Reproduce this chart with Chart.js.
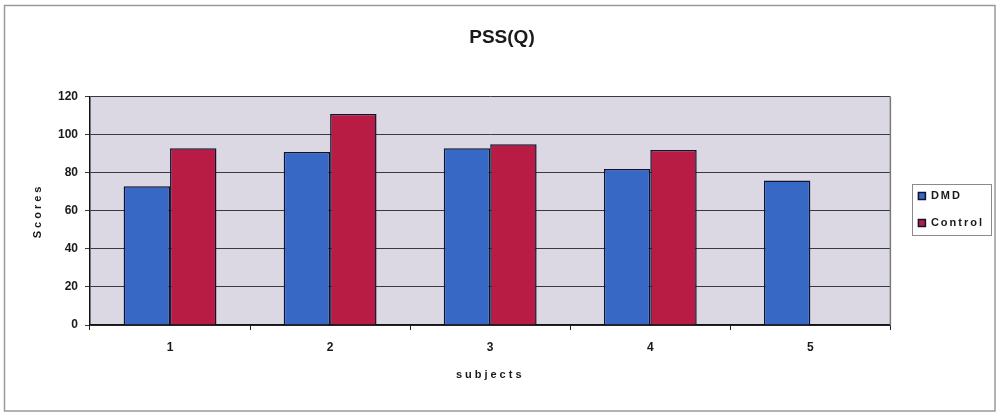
<!DOCTYPE html>
<html>
<head>
<meta charset="utf-8">
<title>PSS(Q)</title>
<script src="https://cdn.jsdelivr.net/npm/chart.js@4/dist/chart.umd.min.js"></script>
<style>
  html, body { margin: 0; padding: 0; background: #ffffff; }
  #wrap { width: 999px; height: 412px; }
</style>
</head>
<body>
<div id="wrap"><canvas id="chart" width="999" height="412"></canvas></div>
<script>
// PSS(Q) scores per subject, DMD vs Control
const chartTitle = 'PSS(Q)';
const subjects = ['1', '2', '3', '4', '5'];
const dmdScores = [73, 91, 93, 82, 76];
const controlScores = [93, 111, 95, 92, null];
const seriesNames = ['DMD', 'Control'];
const yMin = 0;
const yMax = 120;
const yStep = 20;
const xAxisTitle = 'subjects';
const yAxisTitle = 'Scores';

const FONT = '"Liberation Sans", Arial, Helvetica, sans-serif';
const INK = '#1a1a1a';

// Run a drawing method with extra letter spacing (wide Excel-style labels)
function withSpacing(obj, method, spacing) {
  if (!obj || obj['__spaced_' + method]) return;
  const orig = obj[method];
  obj[method] = function (...args) {
    const c = this.ctx;
    const prev = c.letterSpacing;
    c.letterSpacing = spacing;
    try { return orig.apply(this, args); }
    finally { c.letterSpacing = prev; }
  };
  obj['__spaced_' + method] = true;
}

const framePlugin = {
  id: 'frame',
  afterLayout(chart) {
    // nudge title and legend into their places beside the plot
    const t = chart.titleBlock;
    if (t) { t.left += 14; t.right += 14; }
    const l = chart.legend;
    if (l) { l.left += 12; l.right += 30; l.top += 12; l.bottom += 12; }
  },
  beforeDraw(chart) {
    const { ctx, chartArea: a } = chart;
    withSpacing(chart.scales.x, 'drawTitle', '3px');
    withSpacing(chart.scales.y, 'drawTitle', '3px');
    withSpacing(chart.legend, 'draw', '2px');
    ctx.save();
    // outer chart frame
    ctx.strokeStyle = '#9a9a9a';
    ctx.lineWidth = 1.5;
    ctx.strokeRect(4.5, 5.5, chart.width - 8.5, chart.height - 6.5);
    // plot area fill
    ctx.fillStyle = '#dbd8e3';
    ctx.fillRect(a.left, a.top, a.right - a.left, a.bottom - a.top);
    ctx.restore();
  },
  beforeDatasetsDraw(chart) {
    const { ctx, chartArea: a } = chart;
    ctx.save();
    ctx.strokeStyle = '#7a7a7a';
    ctx.lineWidth = 1.5;
    ctx.beginPath();
    ctx.moveTo(a.right, a.top);
    ctx.lineTo(a.right, a.bottom);
    ctx.stroke();
    ctx.restore();
  },
  afterDraw(chart) {
    // frame round the legend entries
    const l = chart.legend;
    if (!l || !l.columnSizes || !l.columnSizes.length) return;
    const { ctx } = chart;
    const pad = l.options.labels.padding;
    const col = l.columnSizes[0];
    const x0 = l.left + pad;
    const y0 = (l.top + pad + l.bottom - col.height) / 2;
    ctx.save();
    ctx.font = 'bold 11px ' + FONT;
    ctx.letterSpacing = '2px';
    let textW = 0;
    l.legendItems.forEach(it => { textW = Math.max(textW, ctx.measureText(it.text).width); });
    const boxW = l.options.labels.boxWidth;
    const left = x0 - 6;
    const right = x0 + boxW + 5.5 + textW + 7;
    const top = y0 - 7;
    const bottom = y0 + col.height - pad + 6;
    ctx.strokeStyle = '#8a8a8a';
    ctx.lineWidth = 1;
    ctx.strokeRect(Math.round(left) + 0.5, Math.round(top) + 0.5,
                   Math.round(right - left), Math.round(bottom - top));
    ctx.restore();
  }
};

new Chart(document.getElementById('chart'), {
  type: 'bar',
  data: {
    labels: subjects,
    datasets: [
      {
        label: seriesNames[0],
        data: dmdScores,
        backgroundColor: '#3768c6',
        borderColor: '#10122e',
        borderWidth: 1.5,
        categoryPercentage: 0.58,
        barPercentage: 1
      },
      {
        label: seriesNames[1],
        data: controlScores,
        backgroundColor: '#b81c45',
        borderColor: '#10122e',
        borderWidth: 1.5,
        categoryPercentage: 0.58,
        barPercentage: 1
      }
    ]
  },
  options: {
    responsive: false,
    animation: false,
    devicePixelRatio: 1,
    layout: { padding: { left: 8, right: 31, top: 0, bottom: 17 } },
    plugins: {
      title: {
        display: true,
        text: chartTitle,
        color: INK,
        font: { family: FONT, size: 19, weight: 'bold' },
        padding: { top: 26, bottom: 48 }
      },
      legend: {
        position: 'right',
        align: 'center',
        labels: {
          boxWidth: 7,
          boxHeight: 7,
          padding: 16,
          color: INK,
          font: { family: FONT, size: 11, weight: 'bold' }
        }
      },
      tooltip: { enabled: false }
    },
    scales: {
      x: {
        grid: {
          display: true,
          drawOnChartArea: false,
          offset: true,
          tickLength: 5,
          color: '#222222'
        },
        border: { color: '#111111', width: 1.5 },
        ticks: {
          color: INK,
          padding: 10,
          font: { family: FONT, size: 12, weight: 'bold' }
        },
        title: {
          display: true,
          text: xAxisTitle,
          color: INK,
          font: { family: FONT, size: 11, weight: 'bold' },
          padding: { top: 0, bottom: 13 }
        },
        afterFit(scale) { scale.height = 70; }
      },
      y: {
        min: yMin,
        max: yMax,
        ticks: {
          stepSize: yStep,
          color: INK,
          padding: 7,
          font: { family: FONT, size: 12, weight: 'bold' }
        },
        grid: { color: '#3a3a3a', lineWidth: 1, tickLength: 5 },
        border: { color: '#111111', width: 1.5 },
        title: {
          display: true,
          text: yAxisTitle,
          color: INK,
          font: { family: FONT, size: 11, weight: 'bold' },
          padding: { top: 23, bottom: 0 }
        },
        afterFit(scale) { scale.width = 82; }
      }
    }
  },
  plugins: [framePlugin]
});
</script>
</body>
</html>
